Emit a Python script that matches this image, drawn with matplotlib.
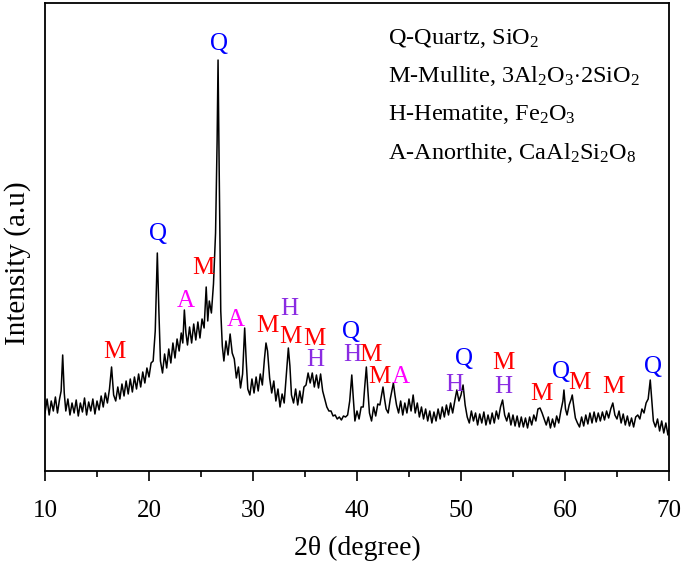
import matplotlib
matplotlib.use("Agg")
import matplotlib.pyplot as plt
from matplotlib.ticker import MultipleLocator

plt.rcParams['font.family'] = ['Liberation Serif', 'DejaVu Serif']
plt.rcParams['mathtext.fontset'] = 'custom'
plt.rcParams['mathtext.rm'] = 'Liberation Serif'
plt.rcParams['mathtext.it'] = 'Liberation Serif:italic'

# XRD scan (arbitrary intensity units)
two_theta = [
    10.0, 10.2, 10.4, 10.6, 10.8, 11.0, 11.2, 11.4, 11.55, 11.7, 11.85, 12.0, 12.2, 12.4, 12.6, 12.8,
    13.0, 13.2, 13.4, 13.6, 13.8, 14.0, 14.2, 14.4, 14.6, 14.8, 15.0, 15.2, 15.4, 15.6, 15.8,
    16.0, 16.2, 16.4, 16.6, 16.8, 17.0, 17.2, 17.4, 17.6, 17.8, 18.0, 18.2, 18.4, 18.6, 18.8,
    19.0, 19.2, 19.4, 19.6, 19.8, 20.0, 20.2, 20.4, 20.6, 20.8, 20.95, 21.1, 21.3, 21.5, 21.7, 21.9,
    22.1, 22.3, 22.5, 22.7, 22.9, 23.1, 23.25, 23.4, 23.55, 23.7, 23.9, 24.1, 24.3, 24.5, 24.7, 24.9,
    25.1, 25.3, 25.5, 25.65, 25.8, 26.0, 26.2, 26.4, 26.55, 26.64, 26.75, 26.9, 27.05, 27.2, 27.4, 27.6,
    27.8, 28.0, 28.2, 28.4, 28.6, 28.8, 29.0, 29.2, 29.35, 29.5, 29.7, 29.9, 30.1, 30.3, 30.5, 30.7,
    30.9, 31.1, 31.25, 31.4, 31.6, 31.8, 32.0, 32.2, 32.4, 32.6, 32.8, 33.0, 33.2, 33.4, 33.55, 33.7,
    33.9, 34.1, 34.3, 34.5, 34.7, 34.9, 35.1, 35.3, 35.5, 35.7, 35.9, 36.1, 36.3, 36.5, 36.7, 36.9,
    37.1, 37.3, 37.5, 37.7, 37.9, 38.1, 38.3, 38.5, 38.7, 38.9, 39.1, 39.3, 39.5, 39.65, 39.8, 40.0,
    40.2, 40.4, 40.6, 40.75, 40.9, 41.05, 41.2, 41.4, 41.6, 41.8, 42.0, 42.2, 42.35, 42.5, 42.65, 42.8,
    43.0, 43.2, 43.35, 43.5, 43.65, 43.8, 44.0, 44.2, 44.4, 44.6, 44.8, 45.0, 45.2, 45.4, 45.6, 45.8,
    46.0, 46.2, 46.4, 46.6, 46.8, 47.0, 47.2, 47.4, 47.6, 47.8, 48.0, 48.2, 48.4, 48.6, 48.8, 49.0,
    49.2, 49.4, 49.6, 49.8, 50.0, 50.2, 50.4, 50.6, 50.8, 51.0, 51.2, 51.4, 51.6, 51.8, 52.0, 52.2,
    52.4, 52.6, 52.8, 53.0, 53.2, 53.4, 53.6, 53.8, 54.0, 54.2, 54.4, 54.6, 54.8, 55.0, 55.2, 55.4,
    55.6, 55.8, 56.0, 56.2, 56.4, 56.6, 56.8, 57.0, 57.2, 57.4, 57.6, 57.8, 58.0, 58.2, 58.4, 58.6,
    58.8, 59.0, 59.2, 59.4, 59.6, 59.8, 59.9, 60.05, 60.2, 60.4, 60.6, 60.7, 60.85, 61.0, 61.2, 61.4,
    61.6, 61.8, 62.0, 62.2, 62.4, 62.6, 62.8, 63.0, 63.2, 63.4, 63.6, 63.8, 64.0, 64.2, 64.4, 64.6,
    64.8, 65.0, 65.2, 65.4, 65.6, 65.8, 66.0, 66.2, 66.4, 66.6, 66.8, 67.0, 67.2, 67.4, 67.6, 67.8,
    68.0, 68.2, 68.35, 68.5, 68.7, 68.9, 69.1, 69.3, 69.5, 69.7, 69.9, 70.0,
]
intensity = [
    58, 72, 56, 70, 60, 74, 58, 72, 80, 116, 78, 60, 72, 56, 68, 58,
    71, 55, 68, 59, 73, 56, 69, 60, 72, 57, 70, 61, 75, 64, 78,
    68, 82, 104, 76, 70, 84, 72, 87, 75, 90, 77, 92, 79, 94, 82,
    97, 84, 99, 88, 103, 94, 108, 110, 140, 218, 160, 110, 98, 117, 103, 122,
    108, 128, 113, 132, 120, 138, 128, 161, 138, 126, 144, 128, 147, 131, 149, 133,
    152, 143, 184, 150, 170, 158, 187, 238, 330, 411, 300, 160, 125, 110, 130, 116,
    137, 118, 112, 93, 104, 83, 97, 143, 110, 82, 76, 92, 78, 94, 80, 97,
    86, 112, 128, 120, 93, 78, 90, 70, 82, 64, 77, 68, 95, 123, 105, 76,
    68, 82, 66, 80, 68, 84, 86, 98, 88, 98, 84, 96, 83, 97, 80, 72,
    64, 60, 60, 55, 56, 52, 54, 51, 55, 54, 56, 70, 96, 72, 50, 60,
    52, 64, 64, 85, 104, 80, 58, 50, 64, 55, 67, 66, 75, 84, 72, 62,
    58, 72, 80, 88, 76, 66, 58, 70, 56, 68, 58, 72, 60, 76, 58, 68,
    54, 64, 52, 62, 50, 60, 48, 59, 50, 62, 52, 64, 54, 66, 56, 68,
    58, 70, 81, 70, 76, 86, 66, 54, 48, 60, 50, 58, 46, 57, 48, 59,
    46, 56, 47, 58, 48, 60, 52, 64, 71, 56, 50, 58, 46, 56, 45, 55,
    44, 54, 44, 53, 43, 54, 46, 56, 50, 62, 63, 58, 52, 46, 54, 43,
    52, 44, 55, 48, 60, 70, 81, 62, 56, 66, 72, 76, 64, 53, 48, 44,
    54, 45, 56, 47, 58, 48, 59, 49, 58, 50, 59, 51, 60, 53, 62, 68,
    56, 52, 60, 48, 57, 46, 55, 45, 53, 44, 54, 56, 52, 62, 58, 68,
    72, 91, 70, 50, 44, 52, 40, 50, 38, 48, 36, 42,
]

# phase marks: letter, 2theta, height of the letter
mark_letters = ['M', 'Q', 'A', 'M', 'Q', 'A', 'M', 'H', 'M', 'M', 'H', 'Q', 'H', 'M', 'M', 'A',
                'H', 'Q', 'M', 'H', 'M', 'Q', 'M', 'M', 'Q']
mark_theta = [16.7, 20.9, 23.5, 25.2, 26.7, 28.3, 31.4, 33.5, 33.6, 35.9, 36.0, 39.4, 39.5, 41.3,
              42.2, 44.2, 49.4, 50.3, 54.1, 54.1, 57.7, 59.6, 61.4, 64.7, 68.5]
mark_height = [119, 237, 170, 203, 427, 151, 145, 162, 134, 132, 111, 139, 116, 116,
               94, 94, 86, 112, 108, 84, 77, 99, 88, 84, 104]
phase_colors = {'Q': '#0000ff', 'M': '#ff0000', 'H': '#8a2be2', 'A': '#ff00ff'}

legend_lines = [r'Q-Quartz, SiO$_2$',
                r'M-Mullite, 3Al$_2$O$_3$$\cdot$2SiO$_2$',
                r'H-Hematite, Fe$_2$O$_3$',
                r'A-Anorthite, CaAl$_2$Si$_2$O$_8$']

fig = plt.figure(figsize=(6.85, 5.7), dpi=100)
ax = fig.add_axes([0.0657, 0.1737, 0.9109, 0.821])

ax.plot(two_theta, intensity, color='black', lw=1.1)

for letter, t, h in zip(mark_letters, mark_theta, mark_height):
    ax.text(t, h, letter, color=phase_colors[letter], fontsize=18,
            ha='center', va='center')

for i, line in enumerate(legend_lines):
    ax.text(0.550, 0.925 - i * 0.082, line, transform=ax.transAxes,
            fontsize=17.5, ha='left', va='center')

ax.set_xlim(10, 70)
ax.set_ylim(0, 468)
ax.xaxis.set_major_locator(MultipleLocator(10))
ax.xaxis.set_minor_locator(MultipleLocator(5))
ax.tick_params(axis='x', which='major', direction='out', length=7, width=1.2, labelsize=18, pad=14)
ax.tick_params(axis='x', which='minor', direction='out', length=4, width=1.2)
ax.set_yticks([])
for s in ax.spines.values():
    s.set_linewidth(1.3)

ax.set_xlabel('2θ (degree)', fontsize=20, labelpad=10)
ax.set_ylabel('Intensity (a.u)', fontsize=21)
ax.yaxis.set_label_coords(-0.022, 0.444)

fig.savefig('out.png', dpi=100)
